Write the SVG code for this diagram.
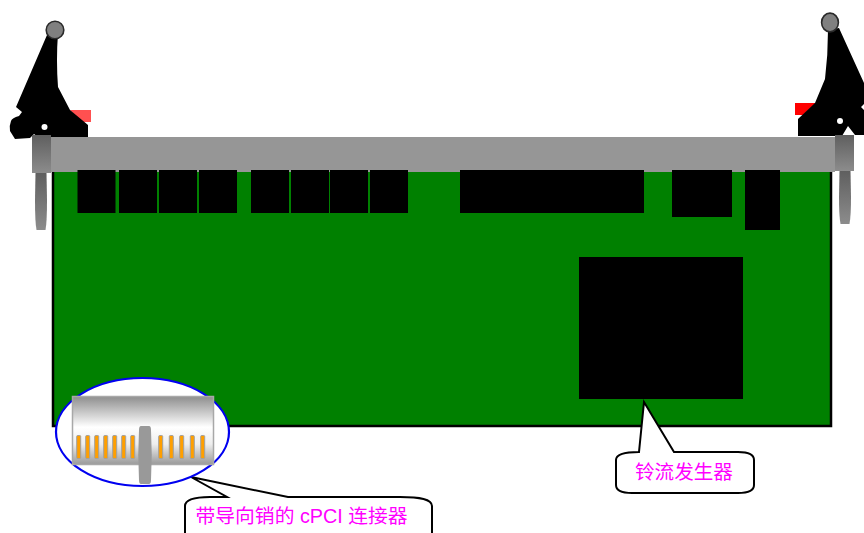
<svg xmlns="http://www.w3.org/2000/svg" width="864" height="533" viewBox="0 0 864 533">
  <style>
    .chip { fill: #000; }
    .lever { fill: #000; }
    .knob { fill: #808080; stroke: #2a2a2a; stroke-width: 1.600; }
    .hole { fill: #fff; }
    .pin { fill: #ff9f00; stroke: #a0a0a0; stroke-width: 1; }
    .bubble { fill: #fff; stroke: #000; stroke-width: 2; stroke-linejoin: miter; }
    .label { fill: #ff00ff; font-family: "Liberation Sans", "Noto Sans CJK SC", sans-serif; font-size: 19.6px; }
  </style>
  <defs>
    <linearGradient id="capFill" x1="0" y1="0" x2="0" y2="1">
      <stop offset="0" stop-color="#5f5f5f"/>
      <stop offset="1" stop-color="#8c8c8c"/>
    </linearGradient>
    <linearGradient id="housingFill" x1="0" y1="0" x2="0" y2="1">
      <stop offset="0" stop-color="#8e8e8e"/>
      <stop offset="0.45" stop-color="#ffffff"/>
      <stop offset="0.7" stop-color="#eeeeee"/>
      <stop offset="1" stop-color="#999999"/>
    </linearGradient>
  </defs>

  <g id="left-lever">
    <polygon points="70,110 91,110 91,122 82,122" fill="#ff5050"/>
    <path class="lever" d="M47,35 L16,107 L22,112 L19,116 Q12,118 11,121 Q9,126 10,131 L15,139 L30,138 L34,134 L38,137 L88,137 L88,125 L70,110 L58,87 Q56,60 58,33 Z"/>
    <circle class="hole" cx="44.500" cy="127" r="3"/>
    <circle class="knob" cx="55" cy="30" r="8.800"/>
  </g>

  <g id="right-lever">
    <polygon points="795,103 816,103 803,115 795,115" fill="#ff0000"/>
    <path class="lever" d="M839,28 L864,83 L864,104 L861,107 L864,110 L864,135 L855,135 L848,126 L842,136 L798,136 L798,119 L815,103 L825,79 Q828,55 828,30 Z"/>
    <circle class="hole" cx="840" cy="121" r="3"/>
    <ellipse class="knob" cx="830" cy="22.500" rx="8.400" ry="9.400"/>
  </g>

  <g id="left-pull">
    <path d="M35.500,173 H46.500 L47,200 Q47,222 45.500,230 H36.500 Q35,222 35,200 Z" fill="url(#capFill)"/>
  </g>
  <g id="right-pull">
    <path d="M839.500,171 H850.500 L851,197 Q851,216 849.500,224 H840.500 Q839,216 839,197 Z" fill="url(#capFill)"/>
  </g>

  <g id="board">
    <rect x="53" y="168" width="778" height="258" fill="#008000" stroke="#000" stroke-width="2.500"/>
  </g>

  <g id="front-panel">
    <rect x="51" y="137" width="784" height="35" fill="#969696"/>
    <rect x="32" y="135" width="19" height="38" fill="url(#capFill)"/>
    <rect x="835" y="135" width="19" height="36" fill="url(#capFill)"/>
  </g>

  <g id="chips">
    <rect class="chip" x="77.500" y="170" width="38" height="43"/>
    <rect class="chip" x="119" y="170" width="38" height="43"/>
    <rect class="chip" x="159" y="170" width="38" height="43"/>
    <rect class="chip" x="199" y="170" width="38" height="43"/>
    <rect class="chip" x="251" y="170" width="38" height="43"/>
    <rect class="chip" x="291" y="170" width="38" height="43"/>
    <rect class="chip" x="330" y="170" width="38" height="43"/>
    <rect class="chip" x="370" y="170" width="38" height="43"/>
    <rect class="chip" x="460" y="170" width="184" height="43"/>
    <rect class="chip" x="672" y="170" width="60" height="47"/>
    <rect class="chip" x="745" y="170" width="35" height="60"/>
    <rect class="chip" x="579" y="257" width="164" height="142"/>
  </g>

  <g id="connector-callout">
    <path class="bubble" d="M191,477 L288,497 H400 C420,497 432,499 432,506 V545 H185 V506 C185,500 192,497 210,497 H227 Z"/>
    <text class="label" x="195.500" y="523" style="font-size:19.800px">带导向销的 cPCI 连接器</text>
  </g>

  <g id="connector-detail">
    <ellipse cx="142.500" cy="432" rx="86.500" ry="54" fill="#fff" stroke="#0000f0" stroke-width="2.200"/>
    <rect x="72.500" y="396.500" width="141" height="68" fill="url(#housingFill)" stroke="#a8a8a8" stroke-width="1.500"/>
    <rect class="pin" x="76.700" y="435.500" width="4" height="23" rx="1"/>
    <rect class="pin" x="85.700" y="435.500" width="4" height="23" rx="1"/>
    <rect class="pin" x="94.700" y="435.500" width="4" height="23" rx="1"/>
    <rect class="pin" x="103.700" y="435.500" width="4" height="23" rx="1"/>
    <rect class="pin" x="112.700" y="435.500" width="4" height="23" rx="1"/>
    <rect class="pin" x="121.700" y="435.500" width="4" height="23" rx="1"/>
    <rect class="pin" x="130.700" y="435.500" width="4" height="23" rx="1"/>
    <rect class="pin" x="158.700" y="435.500" width="4" height="23" rx="1"/>
    <rect class="pin" x="169.300" y="435.500" width="4" height="23" rx="1"/>
    <rect class="pin" x="179.700" y="435.500" width="4" height="23" rx="1"/>
    <rect class="pin" x="190.300" y="435.500" width="4" height="23" rx="1"/>
    <rect class="pin" x="200.700" y="435.500" width="4" height="23" rx="1"/>
    <path d="M141,426 H149 Q151,426 151,430 Q152.500,455 151,480 Q151,484 149,484 H141 Q139,484 139,480 Q137.500,455 139,430 Q139,426 141,426 Z" fill="#999"/>
  </g>

  <g id="generator-callout">
    <path class="bubble" d="M644,402 L674,452 H738 C748,452 754,455 754,460 V485 C754,490 748,493 738,493 H632 C622,493 616,490 616,485 V460 C616,455 624,452 639,452 Z"/>
    <text class="label" x="635" y="478.500">铃流发生器</text>
  </g>
</svg>
